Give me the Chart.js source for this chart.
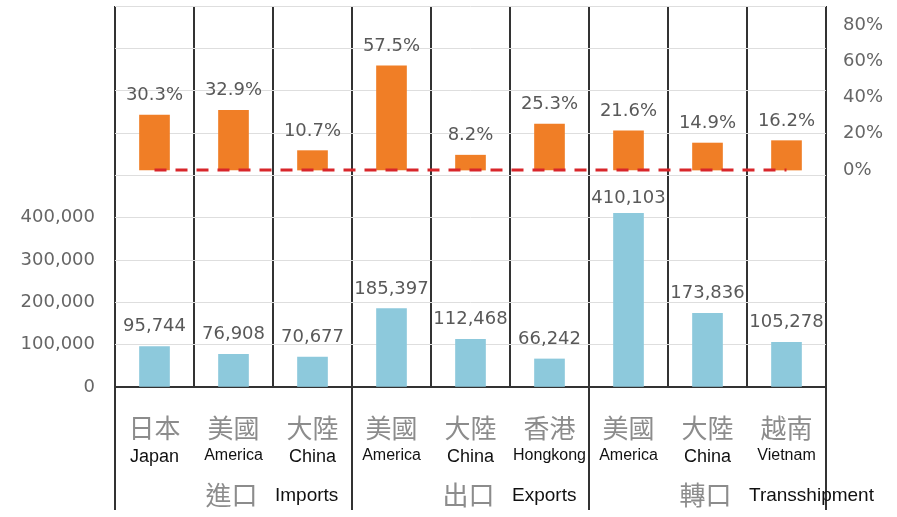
<!DOCTYPE html>
<html><head><meta charset="utf-8">
<script src="https://cdn.jsdelivr.net/npm/chart.js@4"></script>
<style>html,body{margin:0;padding:0;background:#fff}#wrap{width:897px;height:517px;position:relative}</style>
</head><body><div id="wrap"><canvas id="c" width="897" height="517"></canvas></div>
<script>
const categoriesZh = ['日本','美國','大陸','美國','大陸','香港','美國','大陸','越南'];
const categoriesEn = ['Japan','America','China','America','China','Hongkong','America','China','Vietnam'];
const shareValues = [30.3, 32.9, 10.7, 57.5, 8.2, 25.3, 21.6, 14.9, 16.2];
const amountValues = [95744, 76908, 70677, 185397, 112468, 66242, 410103, 173836, 105278];
const amountTicks = [0, 100000, 200000, 300000, 400000];
const shareTicks = [0, 20, 40, 60, 80];
const groupZh = ['進口','出口','轉口'];
const groupEn = ['Imports','Exports','Transshipment'];
const zeroLine = categoriesZh.map(() => 0);

const NUM_FONT = '"DejaVu Sans", sans-serif';
const CJK_FONT = '"Noto Sans CJK TC", sans-serif';
const LAT_FONT = '"Liberation Sans", Arial, sans-serif';

const valueLabels = {
  id: 'valueLabels',
  afterDatasetsDraw(chart) {
    const ctx = chart.ctx;
    ctx.save();
    ctx.font = '18px ' + NUM_FONT;
    ctx.fillStyle = '#595959';
    ctx.textAlign = 'center';
    ctx.textBaseline = 'alphabetic';
    const zeroPx = chart.scales.y2.getPixelForValue(0);
    chart.getDatasetMeta(1).data.forEach((el, i) => {
      ctx.fillText(shareValues[i].toFixed(1) + '%', el.x, el.y - 15);
    });
    chart.getDatasetMeta(2).data.forEach((el, i) => {
      const y = Math.max(el.y - 15, zeroPx + 33);
      ctx.fillText(amountValues[i].toLocaleString('en-US'), el.x, y);
    });
    ctx.restore();
  }
};

const groupDecor = {
  id: 'groupDecor',
  afterDraw(chart) {
    const ctx = chart.ctx;
    const xs = chart.scales.x;
    const area = chart.chartArea;
    ctx.save();
    ctx.strokeStyle = '#333';
    ctx.lineWidth = 2;
    for (let k = 0; k <= groupZh.length; k++) {
      const px = Math.round(xs.getPixelForValue(k * 3 - 0.5));
      ctx.beginPath();
      ctx.moveTo(px, area.bottom);
      ctx.lineTo(px, 510);
      ctx.stroke();
    }
    const yMid = chart.scales.x2.bottom + 28;
    groupZh.forEach((t, g) => {
      ctx.font = '26px ' + CJK_FONT;
      ctx.fillStyle = '#8c8c8c';
      ctx.textAlign = 'center';
      ctx.textBaseline = 'middle';
      ctx.fillText(t, xs.getPixelForValue(g * 3 + 1) - 2, yMid);
      ctx.font = '19px ' + LAT_FONT;
      ctx.fillStyle = '#111';
      ctx.textAlign = 'left';
      ctx.fillText(groupEn[g], xs.getPixelForValue(g * 3 + 1.5) + 2, yMid + 1);
    });
    ctx.restore();
  }
};

const noPad = s => { s.paddingTop = 0; s.paddingBottom = 0; s.paddingLeft = 0; s.paddingRight = 0; };

new Chart(document.getElementById('c'), {
  data: {
    labels: categoriesZh,
    datasets: [
      { type: 'line', data: zeroLine, yAxisID: 'y2', xAxisID: 'x', borderColor: '#D8262B', borderWidth: 3,
        borderDash: [12, 9], pointRadius: 0, fill: false, order: 0 },
      { type: 'bar', data: shareValues, yAxisID: 'y2', xAxisID: 'x', backgroundColor: '#F07E26',
        barThickness: 30, grouped: false, order: 1 },
      { type: 'bar', data: amountValues, yAxisID: 'y', xAxisID: 'x', backgroundColor: '#8DC9DC',
        barThickness: 30, grouped: false, order: 1 }
    ]
  },
  options: {
    responsive: false,
    animation: false,
    devicePixelRatio: 1,
    layout: { padding: { top: 6, left: 0, right: 0, bottom: 50 } },
    plugins: { legend: { display: false }, tooltip: { enabled: false } },
    scales: {
      x: {
        type: 'category', position: 'bottom', offset: true,
        grid: { color: '#333', lineWidth: 2, drawTicks: false, offset: true },
        border: { color: '#333', width: 2 },
        ticks: { font: { family: CJK_FONT, size: 26 }, color: '#8c8c8c', padding: 26, maxRotation: 0, autoSkip: false },
        afterFit: s => { noPad(s); s.height = 58; }
      },
      x2: {
        type: 'category', position: 'bottom', offset: true, labels: categoriesEn,
        grid: { display: false, drawTicks: false }, border: { display: false },
        ticks: {
          font: c => ({ family: LAT_FONT, size: (c.tick && c.tick.label.length > 5) ? 16 : 18 }),
          color: '#111', padding: 1, maxRotation: 0, autoSkip: false
        },
        afterFit: s => { noPad(s); s.height = 22; }
      },
      y: {
        type: 'linear', position: 'left', min: 0, max: 900000,
        grid: { color: '#dedede', lineWidth: 1, drawTicks: false },
        border: { display: false },
        ticks: {
          stepSize: 100000, padding: 20, color: '#666', font: { family: NUM_FONT, size: 18 },
          callback: v => amountTicks.includes(v) ? v.toLocaleString('en-US') : ''
        },
        afterFit: s => { noPad(s); s.width = 115; }
      },
      y2: {
        type: 'linear', position: 'right', min: -119.7, max: 90.5,
        grid: { display: false, drawTicks: false },
        border: { display: false },
        afterBuildTicks: s => { s.ticks = shareTicks.map(v => ({ value: v })); },
        ticks: { padding: 17, color: '#666', font: { family: NUM_FONT, size: 18 }, callback: v => v + '%' },
        afterFit: s => { noPad(s); s.width = 71; }
      }
    }
  },
  plugins: [valueLabels, groupDecor]
});
</script></body></html>
